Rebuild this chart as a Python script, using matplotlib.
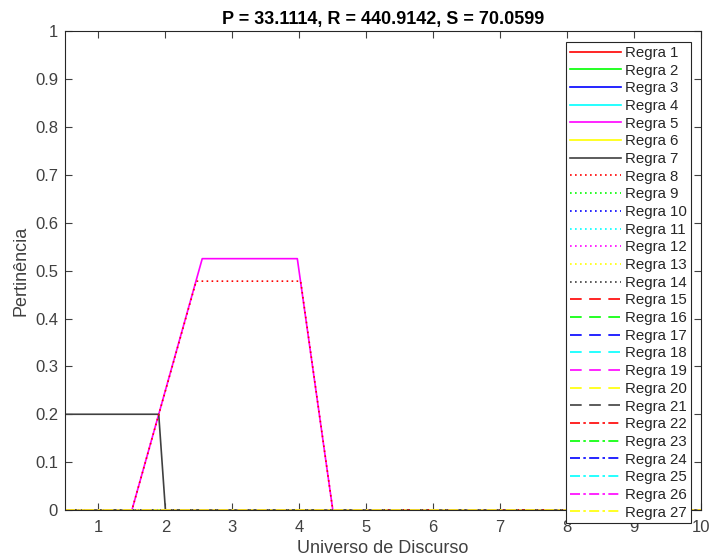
import matplotlib.pyplot as plt

plt.rcParams['font.family'] = ['Liberation Sans', 'DejaVu Sans']

# pontos de quebra de cada regra (x, pertinencia)
x_zero = [0.5, 10]
y_zero = [0, 0]

x_r5 = [0.5, 1.5, 2.55, 3.97, 4.5, 10]
y_r5 = [0, 0, 0.525, 0.525, 0, 0]

x_r7 = [0.5, 1.9, 2.0, 10]
y_r7 = [0.2, 0.2, 0, 0]

x_r8 = [0.5, 1.5, 2.46, 4.02, 4.5, 10]
y_r8 = [0, 0, 0.478, 0.478, 0, 0]

regras = ['Regra %d' % i for i in range(1, 28)]
cores = ['#ff0000', '#00ff00', '#0000ff', '#00ffff', '#ff00ff', '#ffff00', '#404040']
estilos = ['-', (0, (1, 2)), (0, (7, 4.5)), (0, (6, 2, 1.5, 2))]

titulo = 'P = 33.1114, R = 440.9142, S = 70.0599'

fig = plt.figure(figsize=(7.11, 5.58), dpi=100)
ax = fig.add_axes([0.0914, 0.086, 0.8946, 0.858])

for i, nome in enumerate(regras):
    n = i + 1
    if n == 5:
        xs, ys = x_r5, y_r5
    elif n == 7:
        xs, ys = x_r7, y_r7
    elif n == 8:
        xs, ys = x_r8, y_r8
    else:
        xs, ys = x_zero, y_zero
    ax.plot(xs, ys, color=cores[i % 7], linestyle=estilos[i // 7], lw=1.2, label=nome)

ax.set_xlim(0.5, 10)
ax.set_ylim(0, 1)
ax.set_xticks(range(1, 11))
ax.set_yticks([i / 10 for i in range(11)])
ax.set_yticklabels(['0'] + ['0.%d' % i for i in range(1, 10)] + ['1'])
ax.tick_params(direction='in', top=True, right=True, labelsize=12, colors='#404040', length=5)
ax.tick_params(axis='x', pad=7)
ax.tick_params(axis='y', pad=5)
for s in ax.spines.values():
    s.set_color('#262626')
    s.set_linewidth(0.8)

ax.set_xlabel('Universo de Discurso', fontsize=13, color='#404040', labelpad=4)
ax.set_ylabel('Pertinência', fontsize=13, color='#404040', labelpad=4)
ax.set_title(titulo, fontsize=13, fontweight='bold', pad=5)

leg = ax.legend(loc='upper right', bbox_to_anchor=(0.984, 0.977), borderaxespad=0, fontsize=10.8,
                handlelength=3.4, labelspacing=0.245, borderpad=0.25,
                handletextpad=0.3, fancybox=False, framealpha=1, edgecolor='#262626')
leg.get_frame().set_linewidth(0.8)
for t in leg.get_texts():
    t.set_color('#262626')

fig.savefig('out.png', dpi=100)
